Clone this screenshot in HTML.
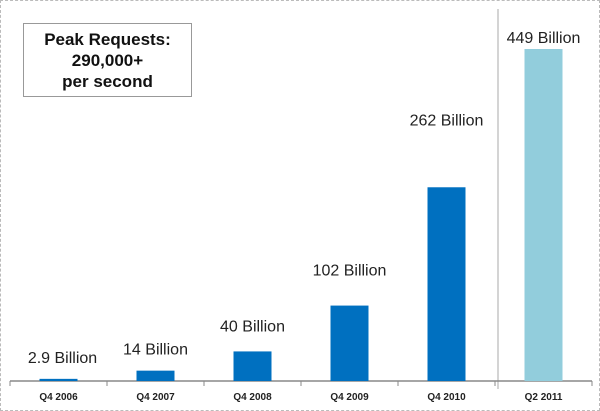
<!DOCTYPE html>
<html><head><meta charset="utf-8"><style>
body{margin:0;background:#fff;}
#wrap{position:relative;width:600px;height:411px;box-sizing:border-box;border:1px dashed #bbb;overflow:hidden;font-family:"Liberation Sans",sans-serif;}
#box{position:absolute;left:22px;top:22px;width:169px;height:74px;border:1px solid #999;box-sizing:border-box;text-align:center;font-weight:bold;font-size:17px;line-height:21px;padding-top:5px;color:#111;}
</style></head><body>
<div id="wrap">
<svg id="chart" width="600" height="411" style="position:absolute;left:0;top:0"></svg>
<div id="box">Peak Requests:<br>290,000+<br>per second</div>
</div>
<script>
const categories=["Q4 2006","Q4 2007","Q4 2008","Q4 2009","Q4 2010","Q2 2011"];
const values=[2.9,14,40,102,262,449];
const valueLabels=["2.9 Billion","14 Billion","40 Billion","102 Billion","262 Billion","449 Billion"];
const labelGap=[16,16,20,30,62,6];
const svg=document.getElementById('chart');
const NS="http://www.w3.org/2000/svg";
const x0=9,band=97,base=380,maxV=449,plotH=332;
function xPos(i){return x0+band*i+band/2;}
function yPos(v){return base-v/maxV*plotH;}
function mk(t,a){const e=document.createElementNS(NS,t);for(const k in a)e.setAttribute(k,a[k]);svg.appendChild(e);return e;}
let sep=mk('line',{x1:497,y1:8,x2:497,y2:388,stroke:'#aaa','stroke-width':1});


let ax=mk('line',{x1:x0,y1:base,x2:x0+band*6,y2:base,stroke:'#888','stroke-width':1.5});


for(let i=0;i<=6;i++){
  let t=mk('line',{x1:x0+band*i,y1:base,x2:x0+band*i,y2:base+5,stroke:'#888'});
  
  
}
categories.forEach((c,i)=>{
  const cx=xPos(i),top=yPos(values[i]);
  let b=mk('rect',{x:cx-19,y:top,width:38,height:Math.max(base-top,1.5),fill:i==5?'#92cddc':'#0070c0'});
  
  
  let l=mk('text',{x:cx,y:399,'text-anchor':'middle','font-size':'10','font-weight':'bold',fill:'#222'});
  l.textContent=c;
  
  
  let v=mk('text',{x:cx+(i==0?4:0),y:top-labelGap[i],'text-anchor':'middle','font-size':'16',fill:'#222'});
  v.textContent=valueLabels[i];
  
  
});
</script>
</body></html>
